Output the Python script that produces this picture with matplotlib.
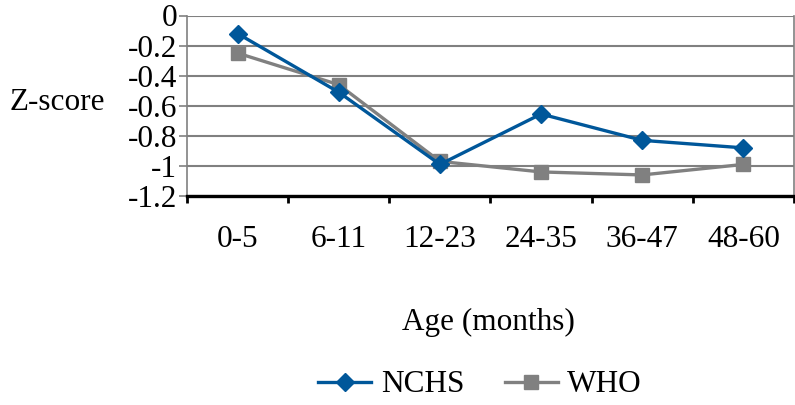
import matplotlib
matplotlib.use("Agg")
import matplotlib.pyplot as plt
from matplotlib.ticker import FixedLocator, FixedFormatter

categories = ["0-5", "6-11", "12-23", "24-35", "36-47", "48-60"]
nchs = [-0.12, -0.51, -0.99, -0.655, -0.83, -0.88]
who = [-0.25, -0.46, -0.97, -1.04, -1.06, -0.99]
y_ticks = [0, -0.2, -0.4, -0.6, -0.8, -1, -1.2]
y_labels = ["0", "-0.2", "-0.4", "-0.6", "-0.8", "-1", "-1.2"]

plt.rcParams["font.family"] = ["Liberation Serif", "DejaVu Serif"]
FS = 22.5

fig = plt.figure(figsize=(7.95, 4.05), dpi=100)
ax = fig.add_axes([187 / 795, 1 - 196 / 405, (794 - 187) / 795, (196 - 15.5) / 405])

x = list(range(len(categories)))
ax.plot(x, nchs, color="#00579A", lw=2.4, marker="D", markersize=9.5, label="NCHS", zorder=4)
ax.plot(x, who, color="#808080", lw=2.4, marker="s", markersize=9.5, label="WHO", zorder=3)

ax.set_xlim(-0.5, len(categories) - 0.5)
ax.set_ylim(-1.2, 0)
ax.yaxis.set_major_locator(FixedLocator(y_ticks))
ax.yaxis.set_major_formatter(FixedFormatter(y_labels))
ax.set_xticks([i - 0.5 for i in range(len(categories) + 1)], minor=False)
ax.set_xticklabels([])
ax.set_xticks(x, minor=True)
ax.set_xticklabels(categories, minor=True, fontsize=FS)
ax.tick_params(axis="x", which="minor", length=0, pad=21)
ax.tick_params(axis="x", which="major", length=5, width=2, color="black", direction="out")
ax.tick_params(axis="y", length=6, width=1.2, color="#808080", labelsize=FS, pad=1)

ax.grid(axis="y", color="#808080", lw=1.5)
ax.set_axisbelow(True)
for s in ["top", "right"]:
    ax.spines[s].set_visible(False)
ax.spines["left"].set_color("#808080")
ax.spines["left"].set_linewidth(1.2)
ax.spines["bottom"].set_color("black")
ax.spines["bottom"].set_linewidth(2.4)
ax.plot([1, 1], [0, 1], transform=ax.transAxes, color="#808080", lw=1.2, clip_on=False)

fig.text(10 / 795, 1 - 103 / 405, "Z-score", fontsize=FS, ha="left", va="center")
fig.text(488 / 795, 1 - 322 / 405, "Age (months)", fontsize=FS, ha="center", va="center")

leg = fig.legend(loc="center", bbox_to_anchor=(480 / 795, 1 - 385 / 405), ncol=2, frameon=False,
                 fontsize=FS, handlelength=1.7, columnspacing=1.3, handletextpad=0.3)

fig.savefig("out.png", dpi=100)
